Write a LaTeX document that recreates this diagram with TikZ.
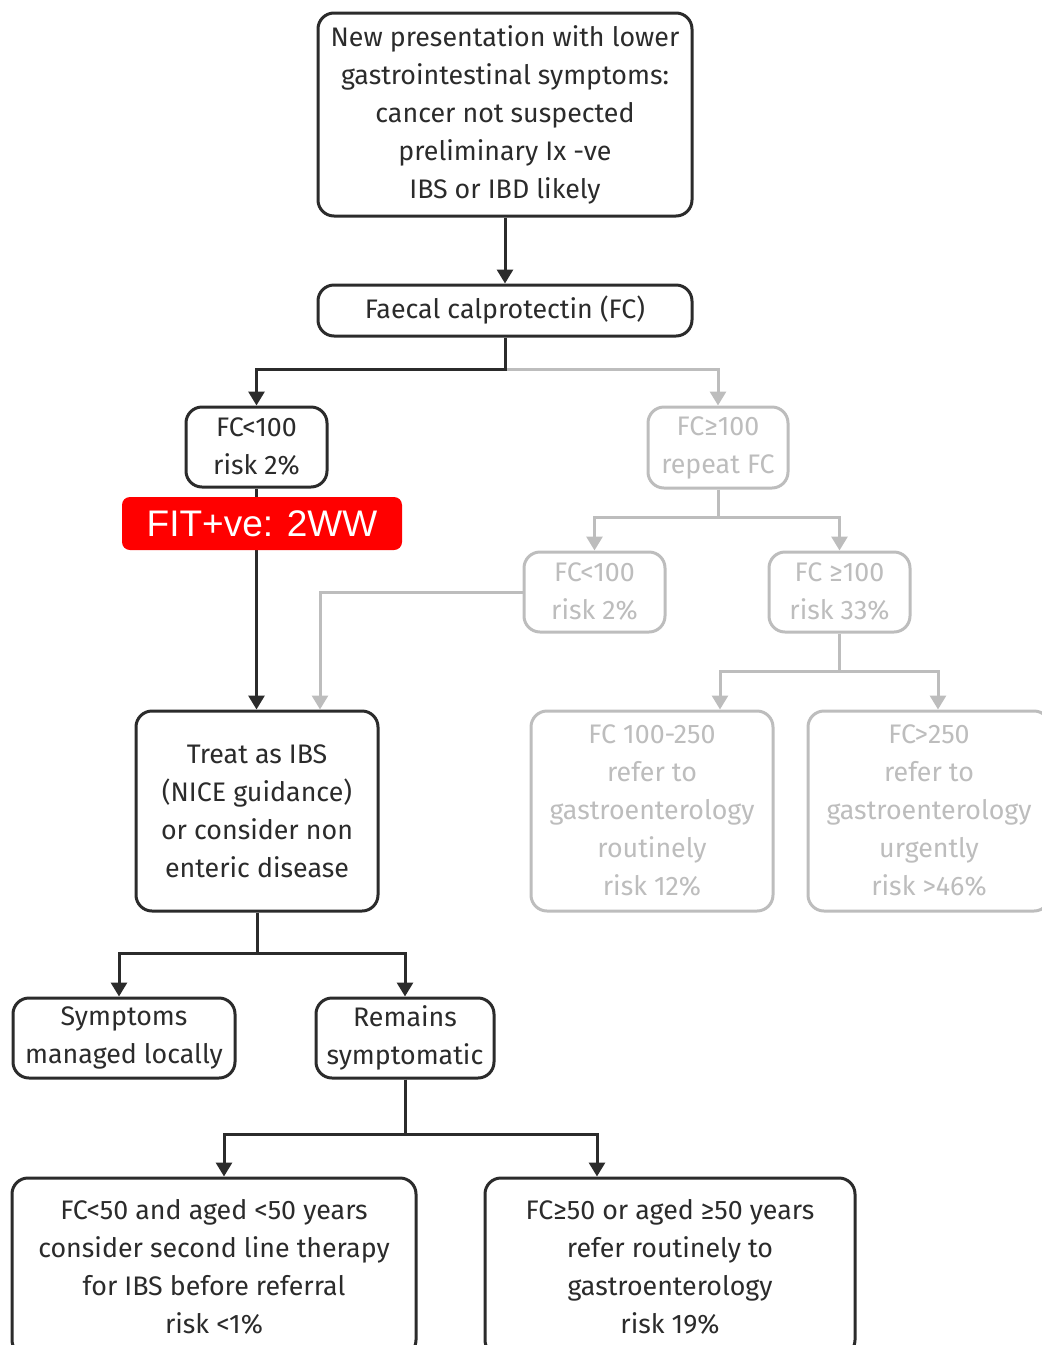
\documentclass[tikz,border=0pt]{standalone}
\usepackage{fontspec}
\setmainfont{Fira Sans}
\newfontfamily\flagfont{Liberation Sans}
\usetikzlibrary{arrows.meta}
\definecolor{ink}{HTML}{2B2B2B}
\definecolor{faint}{HTML}{BDBDBD}
\definecolor{alert}{HTML}{FF0000}
\tikzstyle{darkbox} = [rectangle, rounded corners=8pt, draw=ink, line width=1.5pt, text=ink, align=center, fill=white, inner sep=0pt, font=\fontsize{13.4}{19}\selectfont]
\tikzstyle{greybox} = [darkbox, draw=faint, text=faint]
\tikzstyle{flag} = [rectangle, rounded corners=4pt, fill=alert, text=white, minimum width=140pt, minimum height=26.5pt, font=\flagfont\fontsize{18.5}{20}\selectfont]
\tikzstyle{arrow} = [line width=1.5pt, draw=ink, -{Triangle[width=8pt,length=7pt]}]
\tikzstyle{greyarrow} = [arrow, draw=faint]

\begin{document}
\begin{tikzpicture}[x=0.5pt, y=-0.5pt]
    \useasboundingbox (0,0) rectangle (1042,1345);

    \node (start) [darkbox, minimum width=187pt, minimum height=101.5pt] at (505,114.5) {New presentation with lower\\ gastrointestinal symptoms:\\ cancer not suspected\\ preliminary Ix -ve\\ IBS or IBD likely};
    \node (fc) [darkbox, minimum width=187pt, minimum height=25.5pt] at (505,310.5) {Faecal calprotectin (FC)};
    \node (low1) [darkbox, minimum width=70.5pt, minimum height=40pt] at (256.5,447) {FC<100\\ risk 2\%};
    \node (high1) [greybox, minimum width=70pt, minimum height=40.5pt] at (718,447.5) {FC≥100\\ repeat FC};
    \node (low2) [greybox, minimum width=70.5pt, minimum height=40pt] at (594.5,592) {FC<100\\ risk 2\%};
    \node (high2) [greybox, minimum width=70.5pt, minimum height=40pt] at (839.5,592) {FC ≥100\\ risk 33\%};
    \node (mid) [greybox, minimum width=121pt, minimum height=100pt] at (652,811) {FC 100-250\\ refer to\\ gastroenterology\\ routinely\\ risk 12\%};
    \node (top250) [greybox, minimum width=121pt, minimum height=100pt] at (929,811) {FC>250\\ refer to\\ gastroenterology\\ urgently\\ risk >46\%};
    \node (treat) [darkbox, minimum width=121pt, minimum height=100pt] at (257,811) {Treat as IBS\\ (NICE guidance)\\ or consider non\\ enteric disease};
    \node (local) [darkbox, minimum width=111pt, minimum height=40pt] at (124,1038) {Symptoms\\ managed locally};
    \node (remain) [darkbox, minimum width=89pt, minimum height=40pt] at (405,1038) {Remains\\ symptomatic};
    \node (under50) [darkbox, minimum width=202pt, minimum height=89pt] at (214,1267) {FC<50 and aged <50 years\\ consider second line therapy\\ for IBS before referral\\ risk <1\%};
    \node (over50) [darkbox, minimum width=185pt, minimum height=89pt] at (670,1267) {FC≥50 or aged ≥50 years\\ refer routinely to\\ gastroenterology\\ risk 19\%};

    % grey branch
    \draw [greyarrow] ([yshift=-16pt]fc.south) -| (high1.north);
    \draw [greyarrow] (high1.south) -- ++(0,28) -| (low2.north);
    \draw [greyarrow] (high1.south) -- ++(0,28) -| (high2.north);
    \draw [greyarrow] (low2.west) -| ([xshift=31.5pt]treat.north);
    \draw [greyarrow] (high2.south) -- ++(0,38) -| ([xshift=34pt]mid.north);
    \draw [greyarrow] (high2.south) -- ++(0,38) -| ([xshift=4.5pt]top250.north);

    % main branch
    \draw [arrow] (start) -- (fc);
    \draw [arrow] (fc.south) -- ++(0,32) -| (low1.north);
    \draw [arrow] (low1.south) -- (low1.south |- treat.north);
    \draw [arrow] (treat.south) -- ++(0,41) -| ([xshift=-2.5pt]local.north);
    \draw [arrow] (treat.south) -- ++(0,41) -| (remain.north);
    \draw [arrow] (remain.south) -- ++(0,55) -| ([xshift=5pt]under50.north);
    \draw [arrow] (remain.south) -- ++(0,55) -| ([xshift=-36.5pt]over50.north);

    \node (fit) [flag] at (262,523.5) {FIT+ve: 2WW};

\end{tikzpicture}
\end{document}
